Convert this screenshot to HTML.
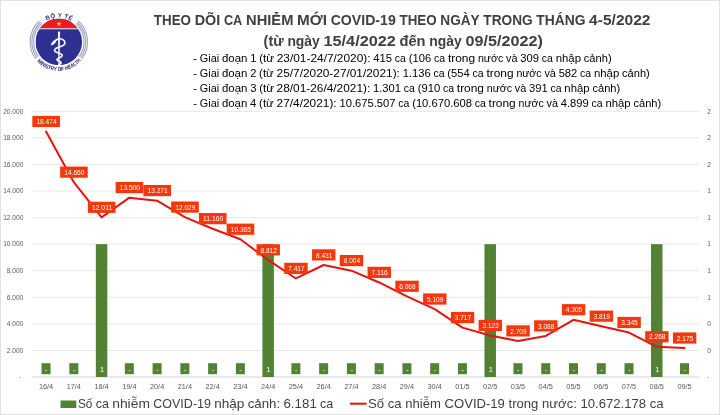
<!DOCTYPE html>
<html><head><meta charset="utf-8"><title>Chart</title>
<style>html,body{margin:0;padding:0;background:#fff;}body{width:720px;height:415px;overflow:hidden;position:relative;font-family:"Liberation Sans",sans-serif;}</style></head>
<body>
<svg width="720" height="415" viewBox="0 0 720 415" style="position:absolute;left:0;top:0;filter:blur(0.3px)" font-family="Liberation Sans, sans-serif">
<rect x="0" y="0" width="720" height="415" fill="#fff"/>
<rect x="0.5" y="0.5" width="719" height="414" fill="none" stroke="#e2e2e2" stroke-width="1"/>
<line x1="32" x2="699.3" y1="377.00" y2="377.00" stroke="#d4d4d4" stroke-width="1"/>
<text x="20.9" y="379.30" font-size="6.6" fill="#595959" text-anchor="end">-</text>
<text x="708" y="379.30" font-size="6.6" fill="#595959" text-anchor="middle">-</text>
<line x1="32" x2="699.3" y1="350.43" y2="350.43" stroke="#e7e7e7" stroke-width="1"/>
<text x="23.3" y="352.73" font-size="6.6" fill="#595959" text-anchor="end">2.000</text>
<text x="709" y="352.73" font-size="6.6" fill="#595959" text-anchor="middle">0</text>
<line x1="32" x2="699.3" y1="323.86" y2="323.86" stroke="#e7e7e7" stroke-width="1"/>
<text x="23.3" y="326.16" font-size="6.6" fill="#595959" text-anchor="end">4.000</text>
<text x="709" y="326.16" font-size="6.6" fill="#595959" text-anchor="middle">0</text>
<line x1="32" x2="699.3" y1="297.29" y2="297.29" stroke="#e7e7e7" stroke-width="1"/>
<text x="23.3" y="299.59" font-size="6.6" fill="#595959" text-anchor="end">6.000</text>
<text x="709" y="299.59" font-size="6.6" fill="#595959" text-anchor="middle">1</text>
<line x1="32" x2="699.3" y1="270.72" y2="270.72" stroke="#e7e7e7" stroke-width="1"/>
<text x="23.3" y="273.02" font-size="6.6" fill="#595959" text-anchor="end">8.000</text>
<text x="709" y="273.02" font-size="6.6" fill="#595959" text-anchor="middle">1</text>
<line x1="32" x2="699.3" y1="244.15" y2="244.15" stroke="#e7e7e7" stroke-width="1"/>
<text x="23.3" y="246.45" font-size="6.6" fill="#595959" text-anchor="end">10.000</text>
<text x="709" y="246.45" font-size="6.6" fill="#595959" text-anchor="middle">1</text>
<line x1="32" x2="699.3" y1="217.58" y2="217.58" stroke="#e7e7e7" stroke-width="1"/>
<text x="23.3" y="219.88" font-size="6.6" fill="#595959" text-anchor="end">12.000</text>
<text x="709" y="219.88" font-size="6.6" fill="#595959" text-anchor="middle">1</text>
<line x1="32" x2="699.3" y1="191.01" y2="191.01" stroke="#e7e7e7" stroke-width="1"/>
<text x="23.3" y="193.31" font-size="6.6" fill="#595959" text-anchor="end">14.000</text>
<text x="709" y="193.31" font-size="6.6" fill="#595959" text-anchor="middle">1</text>
<line x1="32" x2="699.3" y1="164.44" y2="164.44" stroke="#e7e7e7" stroke-width="1"/>
<text x="23.3" y="166.74" font-size="6.6" fill="#595959" text-anchor="end">16.000</text>
<text x="709" y="166.74" font-size="6.6" fill="#595959" text-anchor="middle">2</text>
<line x1="32" x2="699.3" y1="137.87" y2="137.87" stroke="#e7e7e7" stroke-width="1"/>
<text x="23.3" y="140.17" font-size="6.6" fill="#595959" text-anchor="end">18.000</text>
<text x="709" y="140.17" font-size="6.6" fill="#595959" text-anchor="middle">2</text>
<line x1="32" x2="699.3" y1="111.30" y2="111.30" stroke="#e7e7e7" stroke-width="1"/>
<text x="23.3" y="113.60" font-size="6.6" fill="#595959" text-anchor="end">20.000</text>
<text x="709" y="113.60" font-size="6.6" fill="#595959" text-anchor="middle">2</text>
<rect x="95.82" y="244.15" width="11.5" height="132.85" fill="#548235"/>
<rect x="262.38" y="244.15" width="11.5" height="132.85" fill="#548235"/>
<rect x="484.46" y="244.15" width="11.5" height="132.85" fill="#548235"/>
<rect x="651.02" y="244.15" width="11.5" height="132.85" fill="#548235"/>
<rect x="41.55" y="363.2" width="9" height="11" fill="#548235"/>
<text x="46.35" y="371.6" font-size="7.4" fill="#fff" text-anchor="middle">-</text>
<rect x="69.31" y="363.2" width="9" height="11" fill="#548235"/>
<text x="74.11" y="371.6" font-size="7.4" fill="#fff" text-anchor="middle">-</text>
<text x="102.07" y="371.7" font-size="7.4" fill="#fff" text-anchor="middle">1</text>
<rect x="124.83" y="363.2" width="9" height="11" fill="#548235"/>
<text x="129.63" y="371.6" font-size="7.4" fill="#fff" text-anchor="middle">-</text>
<rect x="152.59" y="363.2" width="9" height="11" fill="#548235"/>
<text x="157.39" y="371.6" font-size="7.4" fill="#fff" text-anchor="middle">-</text>
<rect x="180.35" y="363.2" width="9" height="11" fill="#548235"/>
<text x="185.15" y="371.6" font-size="7.4" fill="#fff" text-anchor="middle">-</text>
<rect x="208.11" y="363.2" width="9" height="11" fill="#548235"/>
<text x="212.91" y="371.6" font-size="7.4" fill="#fff" text-anchor="middle">-</text>
<rect x="235.87" y="363.2" width="9" height="11" fill="#548235"/>
<text x="240.67" y="371.6" font-size="7.4" fill="#fff" text-anchor="middle">-</text>
<text x="268.63" y="371.7" font-size="7.4" fill="#fff" text-anchor="middle">1</text>
<rect x="291.39" y="363.2" width="9" height="11" fill="#548235"/>
<text x="296.19" y="371.6" font-size="7.4" fill="#fff" text-anchor="middle">-</text>
<rect x="319.15" y="363.2" width="9" height="11" fill="#548235"/>
<text x="323.95" y="371.6" font-size="7.4" fill="#fff" text-anchor="middle">-</text>
<rect x="346.91" y="363.2" width="9" height="11" fill="#548235"/>
<text x="351.71" y="371.6" font-size="7.4" fill="#fff" text-anchor="middle">-</text>
<rect x="374.67" y="363.2" width="9" height="11" fill="#548235"/>
<text x="379.47" y="371.6" font-size="7.4" fill="#fff" text-anchor="middle">-</text>
<rect x="402.43" y="363.2" width="9" height="11" fill="#548235"/>
<text x="407.23" y="371.6" font-size="7.4" fill="#fff" text-anchor="middle">-</text>
<rect x="430.19" y="363.2" width="9" height="11" fill="#548235"/>
<text x="434.99" y="371.6" font-size="7.4" fill="#fff" text-anchor="middle">-</text>
<rect x="457.95" y="363.2" width="9" height="11" fill="#548235"/>
<text x="462.75" y="371.6" font-size="7.4" fill="#fff" text-anchor="middle">-</text>
<text x="490.71" y="371.7" font-size="7.4" fill="#fff" text-anchor="middle">1</text>
<rect x="513.47" y="363.2" width="9" height="11" fill="#548235"/>
<text x="518.27" y="371.6" font-size="7.4" fill="#fff" text-anchor="middle">-</text>
<rect x="541.23" y="363.2" width="9" height="11" fill="#548235"/>
<text x="546.03" y="371.6" font-size="7.4" fill="#fff" text-anchor="middle">-</text>
<rect x="568.99" y="363.2" width="9" height="11" fill="#548235"/>
<text x="573.79" y="371.6" font-size="7.4" fill="#fff" text-anchor="middle">-</text>
<rect x="596.75" y="363.2" width="9" height="11" fill="#548235"/>
<text x="601.55" y="371.6" font-size="7.4" fill="#fff" text-anchor="middle">-</text>
<rect x="624.51" y="363.2" width="9" height="11" fill="#548235"/>
<text x="629.31" y="371.6" font-size="7.4" fill="#fff" text-anchor="middle">-</text>
<text x="657.27" y="371.7" font-size="7.4" fill="#fff" text-anchor="middle">1</text>
<rect x="680.03" y="363.2" width="9" height="11" fill="#548235"/>
<text x="684.83" y="371.6" font-size="7.4" fill="#fff" text-anchor="middle">-</text>
<text x="46.05" y="389" font-size="7.7" fill="#595959" text-anchor="middle" textLength="14.3" lengthAdjust="spacingAndGlyphs">16/4</text>
<text x="73.81" y="389" font-size="7.7" fill="#595959" text-anchor="middle" textLength="14.3" lengthAdjust="spacingAndGlyphs">17/4</text>
<text x="101.57" y="389" font-size="7.7" fill="#595959" text-anchor="middle" textLength="14.3" lengthAdjust="spacingAndGlyphs">18/4</text>
<text x="129.33" y="389" font-size="7.7" fill="#595959" text-anchor="middle" textLength="14.3" lengthAdjust="spacingAndGlyphs">19/4</text>
<text x="157.09" y="389" font-size="7.7" fill="#595959" text-anchor="middle" textLength="14.3" lengthAdjust="spacingAndGlyphs">20/4</text>
<text x="184.85" y="389" font-size="7.7" fill="#595959" text-anchor="middle" textLength="14.3" lengthAdjust="spacingAndGlyphs">21/4</text>
<text x="212.61" y="389" font-size="7.7" fill="#595959" text-anchor="middle" textLength="14.3" lengthAdjust="spacingAndGlyphs">22/4</text>
<text x="240.37" y="389" font-size="7.7" fill="#595959" text-anchor="middle" textLength="14.3" lengthAdjust="spacingAndGlyphs">23/4</text>
<text x="268.13" y="389" font-size="7.7" fill="#595959" text-anchor="middle" textLength="14.3" lengthAdjust="spacingAndGlyphs">24/4</text>
<text x="295.89" y="389" font-size="7.7" fill="#595959" text-anchor="middle" textLength="14.3" lengthAdjust="spacingAndGlyphs">25/4</text>
<text x="323.65" y="389" font-size="7.7" fill="#595959" text-anchor="middle" textLength="14.3" lengthAdjust="spacingAndGlyphs">26/4</text>
<text x="351.41" y="389" font-size="7.7" fill="#595959" text-anchor="middle" textLength="14.3" lengthAdjust="spacingAndGlyphs">27/4</text>
<text x="379.17" y="389" font-size="7.7" fill="#595959" text-anchor="middle" textLength="14.3" lengthAdjust="spacingAndGlyphs">28/4</text>
<text x="406.93" y="389" font-size="7.7" fill="#595959" text-anchor="middle" textLength="14.3" lengthAdjust="spacingAndGlyphs">29/4</text>
<text x="434.69" y="389" font-size="7.7" fill="#595959" text-anchor="middle" textLength="14.3" lengthAdjust="spacingAndGlyphs">30/4</text>
<text x="462.45" y="389" font-size="7.7" fill="#595959" text-anchor="middle" textLength="14.3" lengthAdjust="spacingAndGlyphs">01/5</text>
<text x="490.21" y="389" font-size="7.7" fill="#595959" text-anchor="middle" textLength="14.3" lengthAdjust="spacingAndGlyphs">02/5</text>
<text x="517.97" y="389" font-size="7.7" fill="#595959" text-anchor="middle" textLength="14.3" lengthAdjust="spacingAndGlyphs">03/5</text>
<text x="545.73" y="389" font-size="7.7" fill="#595959" text-anchor="middle" textLength="14.3" lengthAdjust="spacingAndGlyphs">04/5</text>
<text x="573.49" y="389" font-size="7.7" fill="#595959" text-anchor="middle" textLength="14.3" lengthAdjust="spacingAndGlyphs">05/5</text>
<text x="601.25" y="389" font-size="7.7" fill="#595959" text-anchor="middle" textLength="14.3" lengthAdjust="spacingAndGlyphs">06/5</text>
<text x="629.01" y="389" font-size="7.7" fill="#595959" text-anchor="middle" textLength="14.3" lengthAdjust="spacingAndGlyphs">07/5</text>
<text x="656.77" y="389" font-size="7.7" fill="#595959" text-anchor="middle" textLength="14.3" lengthAdjust="spacingAndGlyphs">08/5</text>
<text x="684.53" y="389" font-size="7.7" fill="#595959" text-anchor="middle" textLength="14.3" lengthAdjust="spacingAndGlyphs">09/5</text>
<polyline points="46.05,131.57 73.81,182.24 101.57,217.43 129.33,197.65 157.09,200.69 184.85,217.19 212.61,228.74 240.37,239.30 268.13,259.93 295.89,278.47 323.65,264.99 351.41,270.67 379.17,282.46 406.93,296.39 434.69,309.13 462.45,327.62 490.21,335.52 517.97,341.01 545.73,335.98 573.49,319.81 601.25,326.26 629.01,332.56 656.77,346.87 684.53,348.11" fill="none" stroke="#e8130f" stroke-width="2" stroke-linejoin="round" stroke-linecap="round"/>
<rect x="32.35" y="115.87" width="27.6" height="11.2" fill="#f4380c"/>
<text x="46.55" y="124.17" font-size="7.6" fill="#fff" text-anchor="middle" textLength="20.2" lengthAdjust="spacingAndGlyphs">18.474</text>
<rect x="60.11" y="166.54" width="27.6" height="11.2" fill="#f4380c"/>
<text x="74.31" y="174.84" font-size="7.6" fill="#fff" text-anchor="middle" textLength="20.2" lengthAdjust="spacingAndGlyphs">14.660</text>
<rect x="87.87" y="201.73" width="27.6" height="11.2" fill="#f4380c"/>
<text x="102.07" y="210.03" font-size="7.6" fill="#fff" text-anchor="middle" textLength="20.2" lengthAdjust="spacingAndGlyphs">12.011</text>
<rect x="115.63" y="181.95" width="27.6" height="11.2" fill="#f4380c"/>
<text x="129.83" y="190.25" font-size="7.6" fill="#fff" text-anchor="middle" textLength="20.2" lengthAdjust="spacingAndGlyphs">13.500</text>
<rect x="143.39" y="184.99" width="27.6" height="11.2" fill="#f4380c"/>
<text x="157.59" y="193.29" font-size="7.6" fill="#fff" text-anchor="middle" textLength="20.2" lengthAdjust="spacingAndGlyphs">13.271</text>
<rect x="171.15" y="201.49" width="27.6" height="11.2" fill="#f4380c"/>
<text x="185.35" y="209.79" font-size="7.6" fill="#fff" text-anchor="middle" textLength="20.2" lengthAdjust="spacingAndGlyphs">12.029</text>
<rect x="198.91" y="213.04" width="27.6" height="11.2" fill="#f4380c"/>
<text x="213.11" y="221.34" font-size="7.6" fill="#fff" text-anchor="middle" textLength="20.2" lengthAdjust="spacingAndGlyphs">11.160</text>
<rect x="226.67" y="223.60" width="27.6" height="11.2" fill="#f4380c"/>
<text x="240.87" y="231.90" font-size="7.6" fill="#fff" text-anchor="middle" textLength="20.2" lengthAdjust="spacingAndGlyphs">10.365</text>
<rect x="256.53" y="244.23" width="23.4" height="11.2" fill="#f4380c"/>
<text x="268.63" y="252.53" font-size="7.6" fill="#fff" text-anchor="middle" textLength="16.4" lengthAdjust="spacingAndGlyphs">8.812</text>
<rect x="284.29" y="262.77" width="23.4" height="11.2" fill="#f4380c"/>
<text x="296.39" y="271.07" font-size="7.6" fill="#fff" text-anchor="middle" textLength="16.4" lengthAdjust="spacingAndGlyphs">7.417</text>
<rect x="312.05" y="249.29" width="23.4" height="11.2" fill="#f4380c"/>
<text x="324.15" y="257.59" font-size="7.6" fill="#fff" text-anchor="middle" textLength="16.4" lengthAdjust="spacingAndGlyphs">8.431</text>
<rect x="339.81" y="254.97" width="23.4" height="11.2" fill="#f4380c"/>
<text x="351.91" y="263.27" font-size="7.6" fill="#fff" text-anchor="middle" textLength="16.4" lengthAdjust="spacingAndGlyphs">8.004</text>
<rect x="367.57" y="266.76" width="23.4" height="11.2" fill="#f4380c"/>
<text x="379.67" y="275.06" font-size="7.6" fill="#fff" text-anchor="middle" textLength="16.4" lengthAdjust="spacingAndGlyphs">7.116</text>
<rect x="395.33" y="280.69" width="23.4" height="11.2" fill="#f4380c"/>
<text x="407.43" y="288.99" font-size="7.6" fill="#fff" text-anchor="middle" textLength="16.4" lengthAdjust="spacingAndGlyphs">6.068</text>
<rect x="423.09" y="293.43" width="23.4" height="11.2" fill="#f4380c"/>
<text x="435.19" y="301.73" font-size="7.6" fill="#fff" text-anchor="middle" textLength="16.4" lengthAdjust="spacingAndGlyphs">5.109</text>
<rect x="450.85" y="311.92" width="23.4" height="11.2" fill="#f4380c"/>
<text x="462.95" y="320.22" font-size="7.6" fill="#fff" text-anchor="middle" textLength="16.4" lengthAdjust="spacingAndGlyphs">3.717</text>
<rect x="478.61" y="319.82" width="23.4" height="11.2" fill="#f4380c"/>
<text x="490.71" y="328.12" font-size="7.6" fill="#fff" text-anchor="middle" textLength="16.4" lengthAdjust="spacingAndGlyphs">3.122</text>
<rect x="506.37" y="325.31" width="23.4" height="11.2" fill="#f4380c"/>
<text x="518.47" y="333.61" font-size="7.6" fill="#fff" text-anchor="middle" textLength="16.4" lengthAdjust="spacingAndGlyphs">2.709</text>
<rect x="534.13" y="320.28" width="23.4" height="11.2" fill="#f4380c"/>
<text x="546.23" y="328.58" font-size="7.6" fill="#fff" text-anchor="middle" textLength="16.4" lengthAdjust="spacingAndGlyphs">3.088</text>
<rect x="561.89" y="304.11" width="23.4" height="11.2" fill="#f4380c"/>
<text x="573.99" y="312.41" font-size="7.6" fill="#fff" text-anchor="middle" textLength="16.4" lengthAdjust="spacingAndGlyphs">4.305</text>
<rect x="589.65" y="310.56" width="23.4" height="11.2" fill="#f4380c"/>
<text x="601.75" y="318.86" font-size="7.6" fill="#fff" text-anchor="middle" textLength="16.4" lengthAdjust="spacingAndGlyphs">3.819</text>
<rect x="617.41" y="316.86" width="23.4" height="11.2" fill="#f4380c"/>
<text x="629.51" y="325.16" font-size="7.6" fill="#fff" text-anchor="middle" textLength="16.4" lengthAdjust="spacingAndGlyphs">3.345</text>
<rect x="645.17" y="331.17" width="23.4" height="11.2" fill="#f4380c"/>
<text x="657.27" y="339.47" font-size="7.6" fill="#fff" text-anchor="middle" textLength="16.4" lengthAdjust="spacingAndGlyphs">2.268</text>
<rect x="672.93" y="332.41" width="23.4" height="11.2" fill="#f4380c"/>
<text x="685.03" y="340.71" font-size="7.6" fill="#fff" text-anchor="middle" textLength="16.4" lengthAdjust="spacingAndGlyphs">2.175</text>
<text x="153.80" y="24.80" font-size="14.6" font-weight="bold" fill="#404040" textLength="37.20" lengthAdjust="spacingAndGlyphs">THEO</text>
<text x="194.68" y="24.80" font-size="14.6" font-weight="bold" fill="#404040" textLength="25.57" lengthAdjust="spacingAndGlyphs">DÕI</text>
<text x="223.91" y="24.80" font-size="14.6" font-weight="bold" fill="#404040" textLength="18.44" lengthAdjust="spacingAndGlyphs">CA</text>
<text x="246.03" y="24.80" font-size="14.6" font-weight="bold" fill="#404040" textLength="47.41" lengthAdjust="spacingAndGlyphs">NHIỄM</text>
<text x="297.11" y="24.80" font-size="14.6" font-weight="bold" fill="#404040" textLength="29.88" lengthAdjust="spacingAndGlyphs">MỚI</text>
<text x="330.67" y="24.80" font-size="14.6" font-weight="bold" fill="#404040" textLength="65.12" lengthAdjust="spacingAndGlyphs">COVID-19</text>
<text x="399.46" y="24.80" font-size="14.6" font-weight="bold" fill="#404040" textLength="37.20" lengthAdjust="spacingAndGlyphs">THEO</text>
<text x="440.33" y="24.80" font-size="14.6" font-weight="bold" fill="#404040" textLength="39.35" lengthAdjust="spacingAndGlyphs">NGÀY</text>
<text x="483.36" y="24.80" font-size="14.6" font-weight="bold" fill="#404040" textLength="49.25" lengthAdjust="spacingAndGlyphs">TRONG</text>
<text x="536.28" y="24.80" font-size="14.6" font-weight="bold" fill="#404040" textLength="49.19" lengthAdjust="spacingAndGlyphs">THÁNG</text>
<text x="589.14" y="24.80" font-size="14.6" font-weight="bold" fill="#404040" textLength="61.36" lengthAdjust="spacingAndGlyphs">4-5/2022</text>
<text x="263.60" y="45.60" font-size="14.6" font-weight="bold" fill="#404040" textLength="20.08" lengthAdjust="spacingAndGlyphs">(từ</text>
<text x="287.39" y="45.60" font-size="14.6" font-weight="bold" fill="#404040" textLength="32.45" lengthAdjust="spacingAndGlyphs">ngày</text>
<text x="323.55" y="45.60" font-size="14.6" font-weight="bold" fill="#404040" textLength="72.27" lengthAdjust="spacingAndGlyphs">15/4/2022</text>
<text x="399.53" y="45.60" font-size="14.6" font-weight="bold" fill="#404040" textLength="26.02" lengthAdjust="spacingAndGlyphs">đến</text>
<text x="429.26" y="45.60" font-size="14.6" font-weight="bold" fill="#404040" textLength="32.45" lengthAdjust="spacingAndGlyphs">ngày</text>
<text x="465.42" y="45.60" font-size="14.6" font-weight="bold" fill="#404040" textLength="77.38" lengthAdjust="spacingAndGlyphs">09/5/2022)</text>
<text x="193.30" y="61.90" font-size="11.3" fill="#000" textLength="3.77" lengthAdjust="spacingAndGlyphs">-</text>
<text x="199.86" y="61.90" font-size="11.3" fill="#000" textLength="19.34" lengthAdjust="spacingAndGlyphs">Giai</text>
<text x="221.98" y="61.90" font-size="11.3" fill="#000" textLength="25.47" lengthAdjust="spacingAndGlyphs">đoạn</text>
<text x="250.24" y="61.90" font-size="11.3" fill="#000" textLength="6.25" lengthAdjust="spacingAndGlyphs">1</text>
<text x="259.27" y="61.90" font-size="11.3" fill="#000" textLength="14.70" lengthAdjust="spacingAndGlyphs">(từ</text>
<text x="276.76" y="61.90" font-size="11.3" fill="#000" textLength="93.80" lengthAdjust="spacingAndGlyphs">23/01-24/7/2020):</text>
<text x="373.35" y="61.90" font-size="11.3" fill="#000" textLength="18.74" lengthAdjust="spacingAndGlyphs">415</text>
<text x="394.87" y="61.90" font-size="11.3" fill="#000" textLength="11.11" lengthAdjust="spacingAndGlyphs">ca</text>
<text x="408.77" y="61.90" font-size="11.3" fill="#000" textLength="22.48" lengthAdjust="spacingAndGlyphs">(106</text>
<text x="434.03" y="61.90" font-size="11.3" fill="#000" textLength="11.11" lengthAdjust="spacingAndGlyphs">ca</text>
<text x="447.94" y="61.90" font-size="11.3" fill="#000" textLength="27.20" lengthAdjust="spacingAndGlyphs">trong</text>
<text x="477.92" y="61.90" font-size="11.3" fill="#000" textLength="25.29" lengthAdjust="spacingAndGlyphs">nước</text>
<text x="506.00" y="61.90" font-size="11.3" fill="#000" textLength="11.47" lengthAdjust="spacingAndGlyphs">và</text>
<text x="520.26" y="61.90" font-size="11.3" fill="#000" textLength="18.74" lengthAdjust="spacingAndGlyphs">309</text>
<text x="541.78" y="61.90" font-size="11.3" fill="#000" textLength="11.11" lengthAdjust="spacingAndGlyphs">ca</text>
<text x="555.68" y="61.90" font-size="11.3" fill="#000" textLength="25.33" lengthAdjust="spacingAndGlyphs">nhập</text>
<text x="583.80" y="61.90" font-size="11.3" fill="#000" textLength="27.80" lengthAdjust="spacingAndGlyphs">cảnh)</text>
<text x="193.30" y="76.77" font-size="11.3" fill="#000" textLength="3.77" lengthAdjust="spacingAndGlyphs">-</text>
<text x="199.85" y="76.77" font-size="11.3" fill="#000" textLength="19.30" lengthAdjust="spacingAndGlyphs">Giai</text>
<text x="221.92" y="76.77" font-size="11.3" fill="#000" textLength="25.42" lengthAdjust="spacingAndGlyphs">đoạn</text>
<text x="250.13" y="76.77" font-size="11.3" fill="#000" textLength="6.23" lengthAdjust="spacingAndGlyphs">2</text>
<text x="259.14" y="76.77" font-size="11.3" fill="#000" textLength="14.67" lengthAdjust="spacingAndGlyphs">(từ</text>
<text x="276.60" y="76.77" font-size="11.3" fill="#000" textLength="123.30" lengthAdjust="spacingAndGlyphs">25/7/2020-27/01/2021):</text>
<text x="402.68" y="76.77" font-size="11.3" fill="#000" textLength="28.04" lengthAdjust="spacingAndGlyphs">1.136</text>
<text x="433.50" y="76.77" font-size="11.3" fill="#000" textLength="11.09" lengthAdjust="spacingAndGlyphs">ca</text>
<text x="447.37" y="76.77" font-size="11.3" fill="#000" textLength="22.43" lengthAdjust="spacingAndGlyphs">(554</text>
<text x="472.58" y="76.77" font-size="11.3" fill="#000" textLength="11.09" lengthAdjust="spacingAndGlyphs">ca</text>
<text x="486.46" y="76.77" font-size="11.3" fill="#000" textLength="27.15" lengthAdjust="spacingAndGlyphs">trong</text>
<text x="516.39" y="76.77" font-size="11.3" fill="#000" textLength="25.24" lengthAdjust="spacingAndGlyphs">nước</text>
<text x="544.41" y="76.77" font-size="11.3" fill="#000" textLength="11.45" lengthAdjust="spacingAndGlyphs">và</text>
<text x="558.64" y="76.77" font-size="11.3" fill="#000" textLength="18.70" lengthAdjust="spacingAndGlyphs">582</text>
<text x="580.12" y="76.77" font-size="11.3" fill="#000" textLength="11.09" lengthAdjust="spacingAndGlyphs">ca</text>
<text x="593.99" y="76.77" font-size="11.3" fill="#000" textLength="25.28" lengthAdjust="spacingAndGlyphs">nhập</text>
<text x="622.05" y="76.77" font-size="11.3" fill="#000" textLength="27.75" lengthAdjust="spacingAndGlyphs">cảnh)</text>
<text x="193.30" y="91.64" font-size="11.3" fill="#000" textLength="3.77" lengthAdjust="spacingAndGlyphs">-</text>
<text x="199.85" y="91.64" font-size="11.3" fill="#000" textLength="19.30" lengthAdjust="spacingAndGlyphs">Giai</text>
<text x="221.93" y="91.64" font-size="11.3" fill="#000" textLength="25.43" lengthAdjust="spacingAndGlyphs">đoạn</text>
<text x="250.14" y="91.64" font-size="11.3" fill="#000" textLength="6.24" lengthAdjust="spacingAndGlyphs">3</text>
<text x="259.16" y="91.64" font-size="11.3" fill="#000" textLength="14.68" lengthAdjust="spacingAndGlyphs">(từ</text>
<text x="276.61" y="91.64" font-size="11.3" fill="#000" textLength="93.63" lengthAdjust="spacingAndGlyphs">28/01-26/4/2021):</text>
<text x="373.03" y="91.64" font-size="11.3" fill="#000" textLength="28.05" lengthAdjust="spacingAndGlyphs">1.301</text>
<text x="403.85" y="91.64" font-size="11.3" fill="#000" textLength="11.10" lengthAdjust="spacingAndGlyphs">ca</text>
<text x="417.73" y="91.64" font-size="11.3" fill="#000" textLength="22.44" lengthAdjust="spacingAndGlyphs">(910</text>
<text x="442.95" y="91.64" font-size="11.3" fill="#000" textLength="11.10" lengthAdjust="spacingAndGlyphs">ca</text>
<text x="456.83" y="91.64" font-size="11.3" fill="#000" textLength="27.15" lengthAdjust="spacingAndGlyphs">trong</text>
<text x="486.76" y="91.64" font-size="11.3" fill="#000" textLength="25.25" lengthAdjust="spacingAndGlyphs">nước</text>
<text x="514.79" y="91.64" font-size="11.3" fill="#000" textLength="11.45" lengthAdjust="spacingAndGlyphs">và</text>
<text x="529.02" y="91.64" font-size="11.3" fill="#000" textLength="18.71" lengthAdjust="spacingAndGlyphs">391</text>
<text x="550.51" y="91.64" font-size="11.3" fill="#000" textLength="11.10" lengthAdjust="spacingAndGlyphs">ca</text>
<text x="564.38" y="91.64" font-size="11.3" fill="#000" textLength="25.28" lengthAdjust="spacingAndGlyphs">nhập</text>
<text x="592.45" y="91.64" font-size="11.3" fill="#000" textLength="27.75" lengthAdjust="spacingAndGlyphs">cảnh)</text>
<text x="193.30" y="106.51" font-size="11.3" fill="#000" textLength="3.76" lengthAdjust="spacingAndGlyphs">-</text>
<text x="199.84" y="106.51" font-size="11.3" fill="#000" textLength="19.29" lengthAdjust="spacingAndGlyphs">Giai</text>
<text x="221.91" y="106.51" font-size="11.3" fill="#000" textLength="25.41" lengthAdjust="spacingAndGlyphs">đoạn</text>
<text x="250.10" y="106.51" font-size="11.3" fill="#000" textLength="6.23" lengthAdjust="spacingAndGlyphs">4</text>
<text x="259.11" y="106.51" font-size="11.3" fill="#000" textLength="14.67" lengthAdjust="spacingAndGlyphs">(từ</text>
<text x="276.56" y="106.51" font-size="11.3" fill="#000" textLength="60.13" lengthAdjust="spacingAndGlyphs">27/4/2021):</text>
<text x="339.47" y="106.51" font-size="11.3" fill="#000" textLength="56.06" lengthAdjust="spacingAndGlyphs">10.675.507</text>
<text x="398.30" y="106.51" font-size="11.3" fill="#000" textLength="11.09" lengthAdjust="spacingAndGlyphs">ca</text>
<text x="412.17" y="106.51" font-size="11.3" fill="#000" textLength="59.78" lengthAdjust="spacingAndGlyphs">(10.670.608</text>
<text x="474.73" y="106.51" font-size="11.3" fill="#000" textLength="11.09" lengthAdjust="spacingAndGlyphs">ca</text>
<text x="488.60" y="106.51" font-size="11.3" fill="#000" textLength="27.13" lengthAdjust="spacingAndGlyphs">trong</text>
<text x="518.51" y="106.51" font-size="11.3" fill="#000" textLength="25.23" lengthAdjust="spacingAndGlyphs">nước</text>
<text x="546.52" y="106.51" font-size="11.3" fill="#000" textLength="11.44" lengthAdjust="spacingAndGlyphs">và</text>
<text x="560.75" y="106.51" font-size="11.3" fill="#000" textLength="28.03" lengthAdjust="spacingAndGlyphs">4.899</text>
<text x="591.55" y="106.51" font-size="11.3" fill="#000" textLength="11.09" lengthAdjust="spacingAndGlyphs">ca</text>
<text x="605.42" y="106.51" font-size="11.3" fill="#000" textLength="25.27" lengthAdjust="spacingAndGlyphs">nhập</text>
<text x="633.47" y="106.51" font-size="11.3" fill="#000" textLength="27.73" lengthAdjust="spacingAndGlyphs">cảnh)</text>
<rect x="60.5" y="400.5" width="15.8" height="7.5" fill="#548235"/>
<text x="78.00" y="407.50" font-size="13.0" fill="#404040" textLength="14.43" lengthAdjust="spacingAndGlyphs">Số</text>
<text x="95.74" y="407.50" font-size="13.0" fill="#404040" textLength="13.19" lengthAdjust="spacingAndGlyphs">ca</text>
<text x="112.24" y="407.50" font-size="13.0" fill="#404040" textLength="37.69" lengthAdjust="spacingAndGlyphs">nhiễm</text>
<text x="153.23" y="407.50" font-size="13.0" fill="#404040" textLength="57.77" lengthAdjust="spacingAndGlyphs">COVID-19</text>
<text x="214.31" y="407.50" font-size="13.0" fill="#404040" textLength="30.06" lengthAdjust="spacingAndGlyphs">nhập</text>
<text x="247.68" y="407.50" font-size="13.0" fill="#404040" textLength="32.47" lengthAdjust="spacingAndGlyphs">cảnh:</text>
<text x="283.46" y="407.50" font-size="13.0" fill="#404040" textLength="33.35" lengthAdjust="spacingAndGlyphs">6.181</text>
<text x="320.11" y="407.50" font-size="13.0" fill="#404040" textLength="13.19" lengthAdjust="spacingAndGlyphs">ca</text>
<line x1="350" x2="366.6" y1="403.7" y2="403.7" stroke="#e8130f" stroke-width="2"/>
<text x="368.1" y="407.9" font-size="13.1" fill="#404040">Số ca nhiễm COVID-19 trong nước: 10.672.178 ca</text>
<g id="logo">
<path d="M38.41,56.71 A25.2,25.2 0 0 1 41.61,23.47" fill="none" stroke="#a9acc6" stroke-width="1.25"/>
<path d="M75.99,23.47 A25.2,25.2 0 0 1 79.19,56.71" fill="none" stroke="#a9acc6" stroke-width="1.25"/>
<path d="M37.00,57.74 A26.95,26.95 0 0 1 40.42,22.19" fill="none" stroke="#a9acc6" stroke-width="1.25"/>
<path d="M77.18,22.19 A26.95,26.95 0 0 1 80.60,57.74" fill="none" stroke="#a9acc6" stroke-width="1.25"/>
<path d="M35.58,58.77 A28.7,28.7 0 0 1 39.23,20.91" fill="none" stroke="#a9acc6" stroke-width="1.25"/>
<path d="M78.37,20.91 A28.7,28.7 0 0 1 82.02,58.77" fill="none" stroke="#a9acc6" stroke-width="1.25"/>
<clipPath id="lc"><circle cx="58.8" cy="41.9" r="23.3"/></clipPath>
<g clip-path="url(#lc)">
<rect x="35.5" y="18.599999999999998" width="46.6" height="46.6" fill="#2e3192"/>
<rect x="35.5" y="18.599999999999998" width="46.6" height="9.50" fill="#ed1c24"/>
<rect x="35.5" y="28.1" width="46.6" height="1.2" fill="#e9c9dc"/>
</g>
<polygon points="59.00,21.30 59.62,23.05 61.47,23.10 60.00,24.22 60.53,26.00 59.00,24.95 57.47,26.00 58.00,24.22 56.53,23.10 58.38,23.05" fill="#ffe512"/>
<path id="tp" d="M34.30,41.90 A24.5,24.5 0 0 1 83.30,41.90" fill="none"/>
<text font-size="6" font-weight="bold" fill="#26266e" letter-spacing="0.35"><textPath href="#tp" startOffset="50.5%" text-anchor="middle">BỘ Y TẾ</textPath></text>
<path id="bp" d="M29.70,41.90 A29.1,29.1 0 0 0 87.90,41.90" fill="none"/>
<text font-size="5.6" font-weight="bold" fill="#26266e" textLength="50" lengthAdjust="spacingAndGlyphs"><textPath href="#bp" startOffset="50.5%" text-anchor="middle" textLength="50" lengthAdjust="spacingAndGlyphs">MINISTRY OF HEALTH</textPath></text>
<polygon points="58.05,32.6 59.95,32.6 59.55,65.3 58.45,65.3" fill="#fff"/>
<circle cx="59.0" cy="32.7" r="1.2" fill="#fff"/>
<path d="M56.2,39.9 C59.5,37 65.4,39.6 64.9,43.4 C64.4,47.2 54.7,46.6 54.5,50 C54.3,53.6 62.3,52.2 62.2,55.5 C62.1,58.2 56.9,57.5 56.9,59.8 C56.9,61.7 61.2,61 61.2,62.8 C61.2,64 59.5,64.2 58.6,64.8" fill="none" stroke="#fff" stroke-width="1.55" stroke-linecap="round" stroke-linejoin="round"/>
<path d="M50.7,45.5 C51.2,42.3 53.7,39.9 56.9,39.2 C56.3,42.5 53.9,44.9 50.7,45.5 Z" fill="#fff"/>
</g>
</svg>
</body></html>
